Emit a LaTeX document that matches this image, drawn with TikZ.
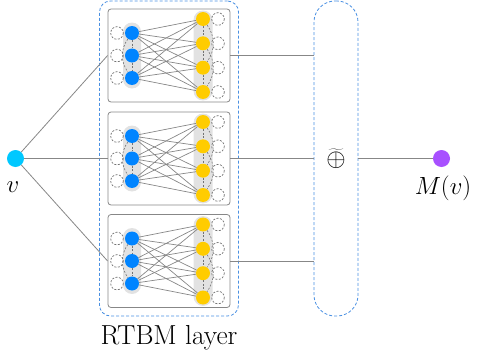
\documentclass[tikz,border=0pt]{standalone}
\usetikzlibrary{positioning}
\definecolor{visblue}{RGB}{0,132,255}
\definecolor{hidyellow}{RGB}{255,204,0}
\definecolor{vcyan}{RGB}{0,200,255}
\definecolor{mpurple}{RGB}{168,80,255}
\definecolor{dashblue}{RGB}{74,144,226}
\definecolor{capgray}{RGB}{226,226,226}
\definecolor{edgegray}{RGB}{135,135,135}
\tikzset{
 rbmbox/.style={draw=edgegray, rounded corners=3pt, line width=0.8pt, minimum width=122pt, minimum height=93pt, inner sep=0pt},
 visnode/.style={circle, fill=visblue, inner sep=0pt, minimum size=14pt},
 hidnode/.style={circle, fill=hidyellow, inner sep=0pt, minimum size=14pt},
 selfloop/.style={draw=edgegray!85!black, dash pattern=on 2pt off 1.5pt, line width=0.7pt},
 bip/.style={draw=edgegray, line width=0.7pt},
 intra/.style={draw=edgegray!85!black, dash pattern=on 2pt off 1.5pt, line width=0.6pt},
 conn/.style={draw=edgegray, line width=0.8pt},
 layerbox/.style={draw=dashblue, dash pattern=on 3pt off 2pt, line width=0.8pt, rounded corners=11pt, minimum width=139pt, minimum height=315pt, inner sep=0pt},
 sumbox/.style={draw=dashblue, dash pattern=on 3pt off 2pt, line width=0.8pt, rounded corners=21pt, minimum width=44pt, minimum height=315pt, inner sep=0pt},
 endpt/.style={circle, inner sep=0pt, minimum size=17pt},
 lbl/.style={font=\fontsize{27.5}{32}\selectfont, inner sep=0pt}
}
\newcommand\RBMblock[2]{%
 \node[rbmbox] (#1box) at (169,#2) {};
 \fill[capgray, rounded corners=9pt] (123,#2-33) rectangle (141,#2+33);
 \fill[capgray, rounded corners=9.5pt] (193.5,#2-45) rectangle (212.5,#2+45);
 \foreach \yy in {-22.5,0,22.5} \draw[selfloop] (117,#2+\yy) circle (6.3);
 \foreach \yy in {-36.5,-12.2,12.2,36.5} \draw[selfloop] (218,#2+\yy) circle (6.3);
 \node[visnode] (#1v1) at (132,#2-22.5) {};
 \node[visnode] (#1v2) at (132,#2) {};
 \node[visnode] (#1v3) at (132,#2+22.5) {};
 \node[hidnode] (#1h1) at (203,#2-36.5) {};
 \node[hidnode] (#1h2) at (203,#2-12.2) {};
 \node[hidnode] (#1h3) at (203,#2+12.2) {};
 \node[hidnode] (#1h4) at (203,#2+36.5) {};
 \foreach \i in {1,2,3} \foreach \j in {1,2,3,4} \draw[bip] (#1v\i) -- (#1h\j);
 \draw[intra] (#1v1) -- (#1v2);
 \draw[intra] (#1v2) -- (#1v3);
 \draw[intra] (#1v1) to[bend right=35] (#1v3);
 \draw[intra] (#1h1) -- (#1h2);
 \draw[intra] (#1h2) -- (#1h3);
 \draw[intra] (#1h3) -- (#1h4);
 \draw[intra] (#1h1) to[bend left=35] (#1h3);
 \draw[intra] (#1h2) to[bend left=35] (#1h4);
}
\begin{document}
\begin{tikzpicture}[x=1pt,y=-1pt]
\useasboundingbox (0,0) rectangle (477,356);
\node[layerbox] (layer) at (169,158.5) {};
\node[sumbox, lbl] (sum) at (336,158.5) {$\widetilde{\oplus}$};
\RBMblock{a}{55.5}
\RBMblock{b}{158.5}
\RBMblock{c}{261}
\node[endpt, fill=vcyan] (v) at (15.5,158.5) {};
\node[endpt, fill=mpurple] (m) at (441.5,158.5) {};
\node[lbl] (vlabel) at (13,187) {$v$};
\node[lbl] (mlabel) at (443,188) {$M(v)$};
\node[lbl] (layerlabel) at (169,338) {RTBM layer};
\draw[conn] (v) -- (abox.west);
\draw[conn] (v) -- (bbox.west);
\draw[conn] (v) -- (cbox.west);
\draw[conn] (abox.east) -- (sum.west |- abox.east);
\draw[conn] (bbox.east) -- (sum.west |- bbox.east);
\draw[conn] (cbox.east) -- (sum.west |- cbox.east);
\draw[conn] (sum) -- (m);
\end{tikzpicture}
\end{document}
